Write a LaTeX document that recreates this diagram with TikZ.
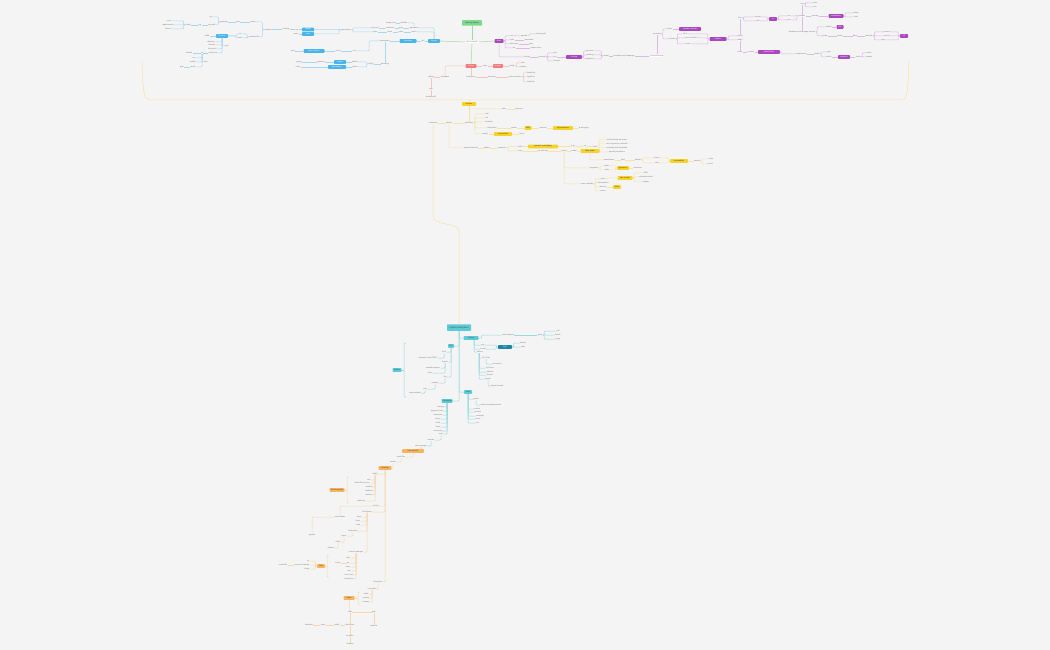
\documentclass[tikz,border=0pt]{standalone}
\usepackage{fontspec}
\setmainfont{Liberation Sans}
\definecolor{bg}{HTML}{F4F4F4}
\definecolor{gn}{HTML}{7FD98C}
\definecolor{gnL}{HTML}{9ED9A6}
\definecolor{bu}{HTML}{48B4EA}
\definecolor{buL}{HTML}{A6D8F2}
\definecolor{pu}{HTML}{A948BE}
\definecolor{puL}{HTML}{DDB9E6}
\definecolor{rd}{HTML}{F27C7C}
\definecolor{rdL}{HTML}{F6C4C4}
\definecolor{ye}{HTML}{F6D22A}
\definecolor{yeL}{HTML}{F5E4A2}
\definecolor{te}{HTML}{5CCBD8}
\definecolor{teL}{HTML}{98D9E2}
\definecolor{td}{HTML}{1C86A6}
\definecolor{orn}{HTML}{F8B45E}
\definecolor{ornL}{HTML}{F8D7AA}
\definecolor{tg}{HTML}{7A7A7A}
\tikzset{
  tx/.style={inner sep=0.3pt,text=tg,font=\fontsize{1.9}{2.2}\selectfont},
  wx/.style={tx,fill=white,inner xsep=1pt,inner ysep=0.6pt},
  bx/.style={inner xsep=0.8pt,inner ysep=0.5pt,minimum height=3.6pt,rounded corners=0.6pt,font=\fontsize{1.9}{2.2}\selectfont},
  gnb/.style={fill=gn,text=black!75},
  bub/.style={fill=bu,text=white},
  pub/.style={fill=pu,text=white},
  rdb/.style={fill=rd,text=white},
  yeb/.style={fill=ye,text=black!75},
  teb/.style={fill=te,text=black!75},
  tdb/.style={fill=td,text=white},
  orb/.style={fill=orn,text=black!75},
  ln/.style={line width=0.5pt,rounded corners=0.8pt},
  gl/.style={ln,draw=gnL},
  bl/.style={ln,draw=buL},
  pl/.style={ln,draw=puL},
  rl/.style={ln,draw=rdL},
  yl/.style={ln,draw=yeL},
  tl/.style={ln,draw=teL},
  ol/.style={ln,draw=ornL},
}
\newcommand\Tn[4]{\node[tx] (#1) at (#2,#3) {#4};}
\newcommand\Bn[6]{\node[bx,#5,minimum width=#4pt] (#1) at (#2,#3) {#6};}
\newcommand\ER[3]{\draw[#1] (#2.east) -- ++(1.5,0) |- (#3.west);}
\newcommand\EL[3]{\draw[#1] (#2.west) -- ++(-1.5,0) |- (#3.east);}
\newcommand\MR[3]{\draw[#1] (#3.west) -- ++(-1.5,0) |- (#2.east);}
\newcommand\SR[3]{\draw[#1] (#2.east) -- (#3.west);}
\newcommand\SL[3]{\draw[#1] (#2.west) -- (#3.east);}
\newcommand\DR[3]{\draw[#1] (#2.south) |- (#3.west);}
\newcommand\DL[3]{\draw[#1] (#2.south) |- (#3.east);}
\begin{document}
\begin{tikzpicture}[x=1pt,y=-1pt]
\fill[bg] (0,0) rectangle (1050,650);
\useasboundingbox (0,0) rectangle (1050,650);
% ================= root
\Bn{root}{472}{23}{20}{gnb,minimum height=5.5pt}{Learning Python}
\node[wx] (c0) at (472,42) {core concepts};
\Bn{B0}{434}{41}{12}{bub}{Syntax}
\Bn{P0}{499}{41}{9}{pub}{Data}
\Bn{R0}{471}{66}{11}{rdb}{Errors}
\draw[gl] (root.south) -- (c0.north);
\draw[gl] (c0.west) -- (B0.east);
\draw[gl] (c0.east) -- (P0.west);
\draw[gl] (c0.south) -- (R0.north);
% ================= blue
\Tn{b1}{423}{41}{def}
\Bn{b2}{408}{41}{17}{bub}{Functions}
\SL{bl}{B0}{b1} \SL{bl}{b1}{b2}
\Tn{b3}{414}{28}{arguments}
\Tn{b4}{414}{32}{return}
\draw[bl] (B0.north) |- (b3.east);
\draw[bl] (B0.north) |- (b4.east);
\Tn{b5}{401}{28}{args}
\Tn{b6}{401}{32}{value}
\SL{bl}{b3}{b5} \SL{bl}{b4}{b6}
\Tn{b9}{390}{28}{positional}
\Tn{b10}{390}{32}{None}
\SL{bl}{b5}{b9} \SL{bl}{b6}{b10}
\Tn{b11}{375}{28}{keyword}
\Tn{b12}{375}{32}{tuple}
\SL{bl}{b9}{b11} \SL{bl}{b10}{b12}
\Tn{b7}{404}{23}{defaults}
\Tn{b8}{391}{23}{scope rules}
\draw[bl] (b3.north) |- (b7.east);
\SL{bl}{b7}{b8}
\Tn{b13}{346}{30}{namespace}
\ER{bl}{b13}{b11} \ER{bl}{b13}{b12}
\Bn{bb1}{308}{29.5}{12}{bub}{global}
\Bn{bb2}{308}{34}{12}{bub}{local}
\EL{bl}{b13}{bb1} \EL{bl}{b13}{bb2}
\Tn{b14}{297}{29.5}{var}
\Tn{b16}{296}{34}{name}
\Tn{b15}{286}{29.5}{binding}
\SL{bl}{bb1}{b14} \SL{bl}{bb2}{b16} \SL{bl}{b14}{b15}
\Tn{b17}{385}{41}{parameters}
\SL{bl}{b2}{b17}
\Tn{b18}{354}{51}{call}
\draw[bl] (b17.west) -- (369,41) |- (b18.east);
\Tn{b19}{338}{51}{result}
\Bn{bb3}{314}{51}{21}{bub}{return values}
\Tn{b20}{293}{51}{print}
\SL{bl}{b18}{b19} \SL{bl}{b19}{bb3} \SL{bl}{bb3}{b20}
\Tn{b21}{385}{64}{docstring}
\draw[bl] (b17.south) -- (b21.north);
\Tn{b22}{371}{64}{help()}
\SL{bl}{b21}{b22}
\Tn{b23}{355}{62}{builtins}
\Tn{b24}{355}{67}{pydoc}
\EL{bl}{b22}{b23} \EL{bl}{b22}{b24}
\Bn{bb4}{340}{62}{12}{bub}{inspect}
\Bn{bb5}{337}{67}{18}{bub}{annotations}
\SL{bl}{b23}{bb4} \SL{bl}{b24}{bb5}
\Tn{b25}{321}{62}{signature}
\Tn{b26}{299}{62}{typing}
\Tn{b27}{298}{67}{hints}
\SL{bl}{bb4}{b25} \SL{bl}{b25}{b26} \SL{bl}{bb5}{b27}
% far left
\Tn{L1}{268}{29.5}{modules}
\SL{bl}{b15}{L1}
\Tn{L2}{253}{22}{import}
\Tn{L3}{238}{22}{from}
\Tn{L4}{224}{22}{package}
\draw[bl] (L1.west) -- ++(-1.5,0) |- (L2.east);
\SL{bl}{L2}{L3} \SL{bl}{L3}{L4}
\Tn{L5}{211}{17}{init}
\Tn{L6}{212}{25}{sys.path}
\EL{bl}{L4}{L5} \EL{bl}{L4}{L6}
\Tn{L7}{200}{25}{pip}
\Tn{L8}{188}{25}{install}
\SL{bl}{L6}{L7} \SL{bl}{L7}{L8}
\Tn{L9}{169}{21}{venv}
\Tn{L10}{168}{25}{requirements}
\Tn{L11}{168}{29}{freeze}
\EL{bl}{L8}{L9} \EL{bl}{L8}{L10} \EL{bl}{L8}{L11}
\Tn{L12}{254}{37}{standard lib}
\draw[bl] (L1.west) -- ++(-1.5,0) |- (L12.east);
\Tn{L13}{240}{34}{os}
\Tn{L14}{240}{38}{math}
\EL{bl}{L12}{L13} \EL{bl}{L12}{L14}
\Bn{LB}{222}{36}{12}{bub}{Libraries}
\MR{bl}{LB}{L13} \MR{bl}{LB}{L14}
\Tn{L15}{207}{36}{stdlib}
\SL{bl}{LB}{L15}
\Tn{L16}{227}{46}{json}
\DR{bl}{LB}{L16}
\Tn{L17}{211}{42}{datetime}
\Tn{L18}{212}{45}{itertools}
\Tn{L19}{212}{49}{functools}
\Tn{L20}{213}{53}{collections}
\DL{bl}{LB}{L17} \DL{bl}{LB}{L18} \DL{bl}{LB}{L19} \DL{bl}{LB}{L20}
\Tn{L21}{202}{53}{re}
\Tn{L22}{189}{53}{random}
\SL{bl}{L20}{L21} \SL{bl}{L21}{L22}
\Tn{L23}{194}{58}{csv}
\Tn{L24}{206}{62}{time}
\Tn{L25}{193}{62}{pathlib}
\Tn{L26}{193}{67}{shutil}
\Tn{L27}{182}{67}{glob}
\DL{bl}{L21}{L23} \DR{bl}{L21}{L24} \DL{bl}{L21}{L25} \DL{bl}{L21}{L26}
\SL{bl}{L26}{L27}
% ================= purple
\Tn{p1}{512}{36}{list}
\Tn{p2}{512}{40}{tuple}
\Tn{p3}{514}{44}{dictionary}
\Tn{p4}{514}{48}{set}
\ER{pl}{P0}{p1} \ER{pl}{P0}{p2} \ER{pl}{P0}{p3} \ER{pl}{P0}{p4}
\Tn{p5}{524}{36}{append}
\Tn{p6}{541}{34}{slicing [a:b]}
\ER{pl}{p1}{p5} \ER{pl}{p5}{p6}
\Tn{p7}{529}{40}{immutable}
\Tn{p8}{531}{44}{keys}
\Tn{p9}{536}{48}{unique items}
\SR{pl}{p2}{p7} \SR{pl}{p3}{p8} \SR{pl}{p4}{p9}
\Tn{p10}{527}{57}{strings}
\draw[pl] (P0.south) |- (p10.west);
\Tn{p11}{542}{57}{methods}
\SR{pl}{p10}{p11}
\Tn{p12}{555}{53}{split}
\Tn{p13}{555}{57}{join}
\Tn{p14}{557}{61}{format}
\ER{pl}{p11}{p12} \ER{pl}{p11}{p13} \ER{pl}{p11}{p14}
\Bn{PB1}{574}{57}{16}{pub}{f-strings}
\SR{pl}{p13}{PB1}
\Tn{p15}{590}{51}{precision}
\Tn{p16}{590}{55}{padding}
\Tn{p17}{590}{59}{alignment}
\ER{pl}{PB1}{p15} \ER{pl}{PB1}{p16} \ER{pl}{PB1}{p17}
\Tn{p18}{606}{56}{output}
\MR{pl}{p15}{p18} \MR{pl}{p16}{p18} \MR{pl}{p17}{p18}
\Tn{p19}{624}{56}{formatting mini-language}
\node[wx] (p20) at (657,56) {text processing};
\SR{pl}{p18}{p19} \SR{pl}{p19}{p20}
\Tn{p21}{657}{34}{encoding}
\draw[pl] (p20.north) -- (p21.south);
\Tn{p22}{670}{29}{bytes}
\Tn{p23}{672}{39}{unicode}
\ER{pl}{p21}{p22} \ER{pl}{p21}{p23}
\Bn{PB2}{690}{29}{22}{pub}{encode / decode}
\SR{pl}{p22}{PB2}
\Tn{p24}{685}{34}{utf-8}
\Tn{p25}{692}{38}{ascii and latin-1}
\Tn{p26}{688}{44}{errors=}
\ER{pl}{p23}{p24} \ER{pl}{p23}{p25} \ER{pl}{p23}{p26}
\Bn{PB3}{718}{39}{17}{pub}{codecs}
\MR{pl}{p24}{PB3} \MR{pl}{p25}{PB3} \MR{pl}{p26}{PB3}
\Tn{p27}{740}{36}{open()}
\Tn{p28}{740}{40}{read()}
\ER{pl}{PB3}{p27} \ER{pl}{PB3}{p28}
\Tn{p29}{740}{18}{files}
\Tn{p30}{740}{52}{paths}
\draw[pl] (p27.north) -- (p29.south);
\draw[pl] (p28.south) -- (p30.north);
\Tn{p31}{758}{17}{modes}
\Tn{p32}{758}{21}{with}
\ER{pl}{p29}{p31} \ER{pl}{p29}{p32}
\Bn{PB4}{773}{19}{8}{pub}{io}
\MR{pl}{p31}{PB4} \MR{pl}{p32}{PB4}
\Tn{p33}{751}{52}{os.path}
\Bn{PB5}{769}{52}{22}{pub}{pathlib.Path}
\SR{pl}{p30}{p33} \SR{pl}{p33}{PB5}
\Tn{p34}{789}{16}{csv}
\Tn{p35}{789}{20}{json}
\ER{pl}{PB4}{p34} \ER{pl}{PB4}{p35}
\Tn{p36}{802}{16}{formats}
\MR{pl}{p34}{p36} \MR{pl}{p35}{p36}
\Tn{p37}{815}{16}{parsing}
\Bn{PB6}{836}{16}{15}{pub}{serialization}
\SR{pl}{p36}{p37} \SR{pl}{p37}{PB6}
\Tn{p38}{856}{13}{dump}
\Tn{p39}{856}{17}{load}
\ER{pl}{PB6}{p38} \ER{pl}{PB6}{p39}
\Tn{p40}{802}{4}{xml}
\draw[pl] (p36.north) -- (p40.south);
\Tn{p41}{815}{3}{etree}
\Tn{p42}{815}{7}{sax}
\ER{pl}{p40}{p41} \ER{pl}{p40}{p42}
\Tn{p43}{802}{32}{databases and storage formats}
\draw[pl] (p36.south) -- (p43.north);
\Tn{p44}{829}{27}{sqlite3}
\Bn{PB7}{840}{27}{7}{pub}{SQL}
\ER{pl}{p43}{p44} \SR{pl}{p44}{PB7}
\Tn{p45}{825}{36}{pickle}
\Tn{p46}{840}{36}{shelve}
\Tn{p47}{855}{36}{dbm}
\Tn{p48}{869}{36}{marshal}
\ER{pl}{p43}{p45} \SR{pl}{p45}{p46} \SR{pl}{p46}{p47} \SR{pl}{p47}{p48}
\Tn{p49}{887}{32}{protocol}
\Tn{p50}{887}{36}{security}
\Tn{p51}{883}{40}{copy}
\ER{pl}{p48}{p49} \ER{pl}{p48}{p50} \ER{pl}{p48}{p51}
\Bn{PB8}{904}{36}{8}{pub}{I/O}
\MR{pl}{p49}{PB8} \MR{pl}{p50}{PB8} \MR{pl}{p51}{PB8}
\Tn{p52}{801}{54}{compression}
\ER{pl}{PB5}{p52}
\Tn{p53}{817}{54}{zipfile}
\SR{pl}{p52}{p53}
\Tn{p54}{829}{52}{gzip}
\Tn{p55}{829}{57}{tarfile}
\ER{pl}{p53}{p54} \ER{pl}{p53}{p55}
\Bn{PB9}{844}{57}{12}{pub}{archives}
\Tn{p56}{858}{57}{shutil}
\SR{pl}{p55}{PB9} \SR{pl}{PB9}{p56}
\Tn{p57}{869}{53}{make}
\Tn{p58}{869}{57}{unpack}
\ER{pl}{p56}{p57} \ER{pl}{p56}{p58}
% ================= red
\Tn{r1}{485}{66}{raise}
\Bn{RB}{498}{66}{10}{rdb}{except}
\Tn{r2}{512}{66}{finally}
\SR{rl}{R0}{r1} \SR{rl}{r1}{RB} \SR{rl}{RB}{r2}
\Tn{r3}{523}{63}{else}
\Tn{r4}{523}{67}{cleanup}
\ER{rl}{r2}{r3} \ER{rl}{r2}{r4}
\Tn{r5}{445}{77}{traceback}
\Tn{r6}{431}{77}{debug}
\draw[rl] (R0.west) -| (r5.north);
\SL{rl}{r5}{r6}
\Tn{r7}{431}{89}{pdb}
\Tn{r8}{431}{97}{breakpoint()}
\draw[rl] (r6.south) -- (r7.north);
\draw[rl] (r7.south) -- (r8.north);
\Tn{r9}{471}{77}{exceptions}
\draw[rl] (R0.south) -- (r9.north);
\Tn{r10}{492}{77}{hierarchy}
\Tn{r11}{515}{77}{custom classes}
\SR{rl}{r9}{r10} \SR{rl}{r10}{r11}
\Tn{r12}{531}{73}{ValueError}
\Tn{r13}{531}{77}{TypeError}
\Tn{r14}{531}{82}{KeyError}
\ER{rl}{r11}{r12} \ER{rl}{r11}{r13} \ER{rl}{r11}{r14}
% ================= yellow summary brace
\coordinate (ybl) at (142,62);
\coordinate (ybr) at (909,60);
\coordinate (ybm) at (469,100);
\draw[yl] (ybl) .. controls (143,92) and (144,100) .. (150,100) -- (902,100) .. controls (907,100) and (908,90) .. (ybr);
\Bn{Y0}{469}{104}{14}{yeb}{Classes}
\draw[yl] (ybm) -- (Y0.north);
\Tn{y1}{504}{109}{class}
\Tn{y2}{519}{109}{keyword}
\draw[yl] (Y0.south) |- (y1.west);
\SR{yl}{y1}{y2}
\Tn{y3}{469}{123}{attributes}
\draw[yl] (Y0.south) -- (y3.north);
\Tn{y4}{449}{123}{objects}
\Tn{y5}{433}{123}{instances}
\SL{yl}{y3}{y4} \SL{yl}{y4}{y5}
\Tn{y6}{487}{114}{self}
\Tn{y7}{487}{118}{init}
\Tn{y8}{489}{122}{methods}
\Tn{y9}{492}{128}{inheritance}
\Tn{y10}{485}{134}{super()}
\ER{yl}{y3}{y6} \ER{yl}{y3}{y7} \ER{yl}{y3}{y8} \ER{yl}{y3}{y9} \ER{yl}{y3}{y10}
\Tn{y11}{514}{128}{parent}
\Bn{Yb1}{528}{128}{7}{yeb}{MRO}
\Tn{y12}{543}{128}{override}
\Bn{Yb2}{563}{128}{20}{yeb}{polymorphism}
\Tn{y13}{584}{128}{duck typing}
\SR{yl}{y9}{y11} \SR{yl}{y11}{Yb1} \SR{yl}{Yb1}{y12} \SR{yl}{y12}{Yb2} \SR{yl}{Yb2}{y13}
\Bn{Yb3}{503}{134}{18}{yeb}{composition}
\Tn{y14}{522}{134}{has-a}
\SR{yl}{y10}{Yb3} \SR{yl}{Yb3}{y14}
\Tn{y15}{471}{148}{special methods}
\draw[yl] (y4.south) |- (y15.west);
\Tn{y16}{487}{148}{dunder}
\Tn{y17}{502}{148}{operators}
\SR{yl}{y15}{y16} \SR{yl}{y16}{y17}
\Tn{y18}{520}{146.5}{add}
\Tn{y19}{520}{151}{repr}
\ER{yl}{y17}{y18} \ER{yl}{y17}{y19}
\Bn{Yb4}{543}{146.5}{30}{yeb}{operator overloading}
\Tn{y20}{573}{146.5}{lt, gt}
\Tn{y21}{585}{146.5}{eq}
\Tn{y22}{595}{146.5}{hash}
\SR{yl}{y18}{Yb4} \SR{yl}{Yb4}{y20} \SR{yl}{y20}{y21} \SR{yl}{y21}{y22}
\Tn{y23}{617}{140}{total ordering decorator}
\Tn{y24}{617}{144}{rich comparison methods}
\Tn{y25}{617}{148}{hashable and immutable}
\Tn{y26}{617}{152}{equality semantics}
\ER{yl}{y22}{y23} \ER{yl}{y22}{y24} \ER{yl}{y22}{y25} \ER{yl}{y22}{y26}
\Tn{y27}{543}{151}{str and repr}
\Tn{y28}{564}{151}{object}
\Tn{y29}{574}{151}{model}
\Bn{Yb5}{590}{151}{19}{yeb}{data model}
\SR{yl}{y19}{y27} \SR{yl}{y27}{y28} \SR{yl}{y28}{y29} \SR{yl}{y29}{Yb5}
\Tn{y31}{609}{160}{dataclasses}
\draw[yl] (Yb5.south) |- (y31.west);
\Tn{y32}{623}{160}{field}
\Tn{y33}{638}{160}{default}
\SR{yl}{y31}{y32} \SR{yl}{y32}{y33}
\Tn{y34}{657}{158}{frozen}
\Tn{y35}{657}{163}{slots}
\ER{yl}{y33}{y34} \ER{yl}{y33}{y35}
\Bn{Yb6}{679}{161}{18}{yeb}{immutability}
\MR{yl}{y34}{Yb6} \MR{yl}{y35}{Yb6}
\Tn{y38}{697}{161}{named}
\SR{yl}{Yb6}{y38}
\Tn{y36}{711}{159}{tuple}
\Tn{y37}{710}{164}{record}
\ER{yl}{y38}{y36} \ER{yl}{y38}{y37}
\Tn{y39}{594}{168}{properties}
\draw[yl] (y28.south) |- (y39.west);
\Tn{y40}{607}{166}{getter}
\Tn{y41}{607}{170}{setter}
\ER{yl}{y39}{y40} \ER{yl}{y39}{y41}
\Bn{Yb7}{623}{168}{12}{yeb}{@property}
\MR{yl}{y40}{Yb7} \MR{yl}{y41}{Yb7}
\Tn{y42}{638}{168}{decorator}
\SR{yl}{Yb7}{y42}
\Tn{y43}{587}{184}{class methods}
\draw[yl] (y28.south) |- (y43.west);
\Tn{y44}{603}{179}{static}
\Tn{y45}{603}{183}{classmethod}
\Tn{y46}{603}{187}{abstract}
\Tn{y47}{603}{191}{mixins}
\ER{yl}{y43}{y44} \ER{yl}{y43}{y45} \ER{yl}{y43}{y46} \ER{yl}{y43}{y47}
\Bn{Yb9}{625}{178}{15}{yeb}{abc module}
\ER{yl}{y44}{Yb9}
\Tn{y48}{646}{173}{ABC}
\Tn{y49}{646}{177}{abstractmethod}
\Tn{y50}{646}{182}{register}
\ER{yl}{Yb9}{y48} \ER{yl}{Yb9}{y49} \ER{yl}{Yb9}{y50}
\Bn{Yb8}{617}{187}{8}{yeb}{Mixin}
\SR{yl}{y46}{Yb8}
% ================= teal
\Bn{T0}{459}{327.5}{24}{teb,minimum height=6.5pt,font=\fontsize{2.3}{2.6}\selectfont}{Python Ecosystem}
\draw[yl] (y5.south) -- (433,215) .. controls (433,227) and (459,221) .. (459,233) -- (T0.north);
\Bn{T1}{471}{338}{15}{teb}{Tooling}
\Bn{T2}{451}{346}{6}{teb}{IDE}
\Bn{T3}{468}{392}{8}{teb}{Tests}
\Bn{T4}{447}{401}{11}{teb}{Packaging}
\DR{tl}{T0}{T1} \DL{tl}{T0}{T2} \DR{tl}{T0}{T3} \DL{tl}{T0}{T4}
\Tn{t1}{508}{335}{static analysis}
\draw[tl] (T1.east) -- ++(3,0) |- (t1.west);
\Tn{t2}{540}{335}{pylint}
\SR{tl}{t1}{t2}
\Tn{t3}{558}{331}{ruff}
\Tn{t4}{558}{335}{flake8}
\Tn{t5}{558}{339}{mypy}
\ER{tl}{t2}{t3} \ER{tl}{t2}{t4} \ER{tl}{t2}{t5}
\Tn{t6}{483}{345}{pip}
\Tn{t7}{483}{349}{conda}
\draw[tl] ([xshift=3pt]T1.south) |- (t6.west);
\draw[tl] ([xshift=3pt]T1.south) |- (t7.west);
\Bn{TB}{505}{347}{14}{tdb}{PyPI}
\MR{tl}{t6}{TB} \MR{tl}{t7}{TB}
\Tn{t8}{523}{343}{wheels}
\Tn{t9}{523}{347}{sdist}
\ER{tl}{TB}{t8} \ER{tl}{TB}{t9}
\Tn{t10}{480}{352}{editors}
\draw[tl] ([xshift=3pt]T1.south) |- (t10.west);
\Tn{t11}{486}{358}{VS Code}
\Tn{t13}{490}{368}{PyCharm}
\Tn{t14}{490}{372}{Sublime}
\Tn{t15}{490}{375}{Emacs}
\Tn{t16}{488}{379}{Jupyter}
\draw[tl] ([xshift=-1pt]t10.south) |- (t11.west);
\draw[tl] ([xshift=-1pt]t10.south) |- (t13.west);
\draw[tl] ([xshift=-1pt]t10.south) |- (t14.west);
\draw[tl] ([xshift=-1pt]t10.south) |- (t15.west);
\draw[tl] ([xshift=-1pt]t10.south) |- (t16.west);
\Tn{t12}{497}{364}{extensions}
\DR{tl}{t11}{t12}
\Tn{t17}{497}{386}{Jupyter kernels}
\DR{tl}{t16}{t17}
\Tn{t18}{444}{352}{IDLE}
\Tn{t19}{428}{358}{interactive shell REPL}
\Tn{t20}{445}{362}{Spyder}
\Tn{t21}{433}{368}{variable explorer}
\Tn{t22}{430}{373}{plots}
\Tn{t23}{445}{377}{Vim}
\Tn{t24}{435}{383}{plugins}
\Tn{t25}{425}{389}{jedi}
\Tn{t26}{415}{393}{autocomplete}
\DL{tl}{T2}{t18} \DL{tl}{T2}{t20} \DL{tl}{T2}{t23}
\DL{tl}{t18}{t19} \DL{tl}{t20}{t21} \DL{tl}{t20}{t22}
\DL{tl}{t23}{t24} \DL{tl}{t24}{t25} \DL{tl}{t25}{t26}
\Bn{TL}{397}{370}{9}{teb}{Editors}
\coordinate (tsa) at (406,343);
\coordinate (tsb) at (406,397);
\coordinate (tsm) at (404,370);
\draw[tl] (tsa) -| (404,397) -- (tsb);
\draw[tl] (tsm) -- (TL.east);
\Tn{t27}{476}{399}{pytest}
\Tn{t28}{491}{405}{fixtures and parametrize}
\Tn{t29}{477}{409}{unittest}
\Tn{t30}{478}{412}{doctest}
\Tn{t31}{480}{416}{coverage}
\Tn{t32}{478}{419}{mock}
\Tn{t33}{478}{423}{tox}
\DR{tl}{T3}{t27} \DR{tl}{t27}{t28}
\DR{tl}{T3}{t29} \DR{tl}{T3}{t30} \DR{tl}{T3}{t31} \DR{tl}{T3}{t32} \DR{tl}{T3}{t33}
\Tn{t34}{441}{407}{setup.py}
\Tn{t35}{437}{411}{pyproject.toml}
\Tn{t36}{438}{415}{setuptools}
\Tn{t37}{438}{419}{poetry}
\Tn{t38}{438}{423}{build}
\Tn{t39}{438}{427}{twine}
\Tn{t40}{438}{431}{versioning}
\Tn{t41}{441}{434}{venv}
\DL{tl}{T4}{t34} \DL{tl}{T4}{t35} \DL{tl}{T4}{t36} \DL{tl}{T4}{t37}
\DL{tl}{T4}{t38} \DL{tl}{T4}{t39} \DL{tl}{T4}{t40} \DL{tl}{T4}{t41}
\Tn{t42}{431}{440}{activate}
\Tn{t43}{421}{446}{site-packages}
\DL{tl}{t41}{t42} \DL{tl}{t42}{t43}
% ================= orange
\Bn{O0}{413}{451}{22}{orb}{Files and I/O}
\draw[ol] (t43.south) -- (t43.south |- O0.north);
\Tn{o1}{401}{457}{open files}
\Tn{o2}{393}{462}{modes}
\DL{ol}{O0}{o1} \DL{ol}{o1}{o2}
\Bn{OB1}{385}{468}{13}{orb}{Reading}
\DL{ol}{o2}{OB1}
\Tn{o3}{375}{474}{read()}
\DL{ol}{OB1}{o3}
\Tn{o4}{369}{480}{size}
\Tn{o5}{362}{483}{whole file at once}
\Tn{o6}{369}{487}{readline}
\Tn{o7}{369}{491}{readlines}
\Tn{o8}{369}{495}{iteration}
\Tn{o9}{361}{501}{buffering}
\DL{ol}{o3}{o4} \DL{ol}{o3}{o5} \DL{ol}{o3}{o6} \DL{ol}{o3}{o7} \DL{ol}{o3}{o8} \DL{ol}{o3}{o9}
\Bn{OL1}{337}{490}{15}{orb}{Read methods}
\coordinate (osa) at (349,477);
\coordinate (osb) at (349,503);
\coordinate (osm) at (347,490);
\draw[ol] (osa) -| (347,503) -- (osb);
\draw[ol] (osm) -- (OL1.east);
\Tn{o10}{376}{506}{write()}
\DL{ol}{OB1}{o10}
\Tn{o12}{340}{517}{write modes}
\draw[ol] (o10.west) -| (o12.north);
\Tn{o13}{312}{535}{append}
\draw[ol] (o12.west) -| (o13.north);
\Tn{o11}{367}{512}{file objects}
\DL{ol}{OB1}{o11}
\Tn{o14}{359}{517}{close}
\Tn{o15}{358}{521}{flush}
\Tn{o16}{358}{525}{seek}
\Tn{o17}{353}{531}{tell position}
\Tn{o21}{356}{552}{context manager}
\DL{ol}{o11}{o14} \DL{ol}{o11}{o15} \DL{ol}{o11}{o16} \DL{ol}{o11}{o17} \DL{ol}{o11}{o21}
\Tn{o18}{344}{536}{bytes}
\Tn{o19}{338}{542}{offset}
\Tn{o20}{331}{548}{whence}
\DL{ol}{o17}{o18} \DL{ol}{o18}{o19} \DL{ol}{o19}{o20}
\Tn{o22}{348}{558}{with}
\Tn{o23}{348}{563}{as}
\Tn{o24}{348}{567}{enter}
\Tn{o25}{349}{571}{exit}
\Tn{o26}{349}{575}{auto close}
\Tn{o27}{349}{579}{exceptions}
\DL{ol}{o21}{o22} \DL{ol}{o21}{o23} \DL{ol}{o21}{o24} \DL{ol}{o21}{o25} \DL{ol}{o21}{o26} \DL{ol}{o21}{o27}
\Tn{o28}{338}{563}{scope}
\SL{ol}{o23}{o28}
\Bn{OB2}{321}{566}{8}{orb}{Safe}
\coordinate (oxa) at (329,555);
\coordinate (oxb) at (329,577);
\coordinate (oxm) at (327,566);
\draw[ol] (oxa) -| (327,577) -- (oxb);
\draw[ol] (oxm) -- (OB2.east);
\Tn{o29}{308}{561}{try}
\Tn{o30}{302}{565}{resource cleanup}
\Tn{o31}{307}{569}{finally}
\EL{ol}{OB2}{o29} \EL{ol}{OB2}{o30} \EL{ol}{OB2}{o31}
\Tn{o32}{283}{565}{contextlib}
\SL{ol}{o30}{o32}
\Tn{o33}{378}{582}{file system}
\DL{ol}{OB1}{o33}
\Tn{o34}{372}{589}{os module}
\DL{ol}{o33}{o34}
\Tn{o35}{366}{594}{listdir}
\Tn{o36}{366}{598}{remove}
\Tn{o37}{366}{602}{rename}
\DL{ol}{o34}{o35} \DL{ol}{o34}{o36} \DL{ol}{o34}{o37}
\Bn{OB3}{349}{598}{11}{orb}{Paths}
\coordinate (oya) at (360,592);
\coordinate (oyb) at (360,604);
\coordinate (oym) at (358,598);
\draw[ol] (oya) -| (358,604) -- (oyb);
\draw[ol] (oym) -- (OB3.east);
\Tn{o38}{350}{612}{walk}
\Tn{o39}{374}{612}{glob}
\Tn{o40}{374}{626}{patterns}
\draw[ol] (OB3.south) -- (o38.north);
\SR{ol}{o38}{o39}
\draw[ol] (o39.south) -- (o40.north);
\Tn{o41}{350}{625}{directories}
\draw[ol] (o38.south) -- (o41.north);
\Tn{o42}{337}{625}{mkdir}
\Tn{o43}{323}{625}{rmdir}
\Tn{o44}{309}{625}{makedirs}
\SL{ol}{o41}{o42} \SL{ol}{o42}{o43} \SL{ol}{o43}{o44}
\Tn{o45}{350}{636}{tempfile}
\Tn{o46}{350}{644}{cleanup}
\draw[ol] (o41.south) -- (o45.north);
\draw[ol] (o45.south) -- (o46.north);
\end{tikzpicture}
\end{document}
